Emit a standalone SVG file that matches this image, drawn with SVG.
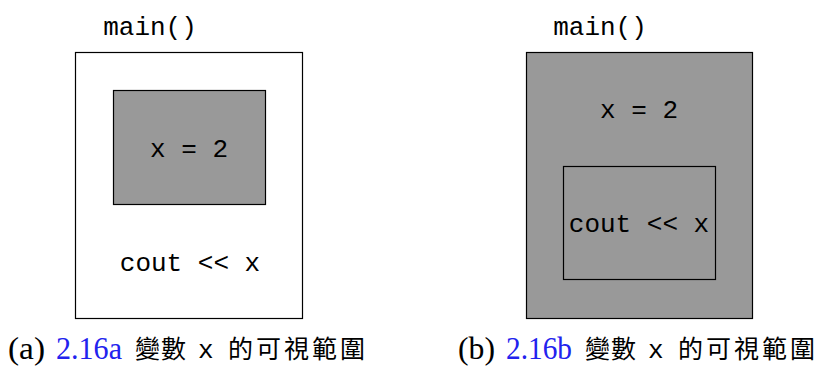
<svg xmlns="http://www.w3.org/2000/svg" width="819" height="372" viewBox="0 0 819 372">
  <style>
    .box { stroke: #000; stroke-width: 1.2; }
    .white { fill: #fff; }
    .grey { fill: #999; }
    .code { font-family: "Liberation Mono", "DejaVu Sans Mono", monospace; font-size: 26px; fill: #000; }
    .cap { font-family: "Liberation Serif", "Noto Sans CJK TC", serif; font-size: 31px; fill: #000; }
    .cjk { font-family: "Noto Sans CJK TC", sans-serif; font-size: 25px; fill: #000; }
    .ref { fill: #2222ee; }
  </style>
  <rect width="819" height="372" fill="#fff"/>

  <!-- left panel: x is declared in the inner block -->
  <g id="main-a">
    <text class="code" x="150" y="35" text-anchor="middle">main()</text>
    <rect class="box white" x="75.5" y="52.5" width="227" height="266"/>
  </g>
  <g id="block-a">
    <rect class="box grey" x="113.5" y="90.5" width="152" height="114"/>
    <text class="code" x="189" y="157" text-anchor="middle">x = 2</text>
  </g>
  <g id="cout-a">
    <text class="code" x="190" y="271" text-anchor="middle">cout &lt;&lt; x</text>
  </g>

  <!-- right panel: x is declared in main, visible in the inner block -->
  <g id="main-b">
    <text class="code" x="600" y="35" text-anchor="middle">main()</text>
    <rect class="box grey" x="526.5" y="52.5" width="226" height="266"/>
    <text class="code" x="639" y="118" text-anchor="middle">x = 2</text>
  </g>
  <g id="block-b">
    <rect class="box grey" x="563.5" y="166.5" width="152" height="113"/>
    <text class="code" x="639" y="232" text-anchor="middle">cout &lt;&lt; x</text>
  </g>

  <g id="connectors"/>

  <!-- captions -->
  <g id="caption-a">
    <text class="cap" x="8" y="359" textLength="37" lengthAdjust="spacingAndGlyphs">(a)</text>
    <text class="cap ref" x="56" y="359" textLength="66" lengthAdjust="spacingAndGlyphs">2.16a</text>
    <text class="cjk" x="135" y="358" textLength="51" lengthAdjust="spacing">變數</text>
    <text class="code" x="198" y="358" font-size="22">x</text>
    <text class="cjk" x="228" y="358" textLength="137" lengthAdjust="spacing">的可視範圍</text>
  </g>
  <g id="caption-b">
    <text class="cap" x="458" y="359" textLength="37" lengthAdjust="spacingAndGlyphs">(b)</text>
    <text class="cap ref" x="506" y="359" textLength="66" lengthAdjust="spacingAndGlyphs">2.16b</text>
    <text class="cjk" x="585" y="358" textLength="51" lengthAdjust="spacing">變數</text>
    <text class="code" x="648" y="358" font-size="22">x</text>
    <text class="cjk" x="678" y="358" textLength="137" lengthAdjust="spacing">的可視範圍</text>
  </g>
</svg>
